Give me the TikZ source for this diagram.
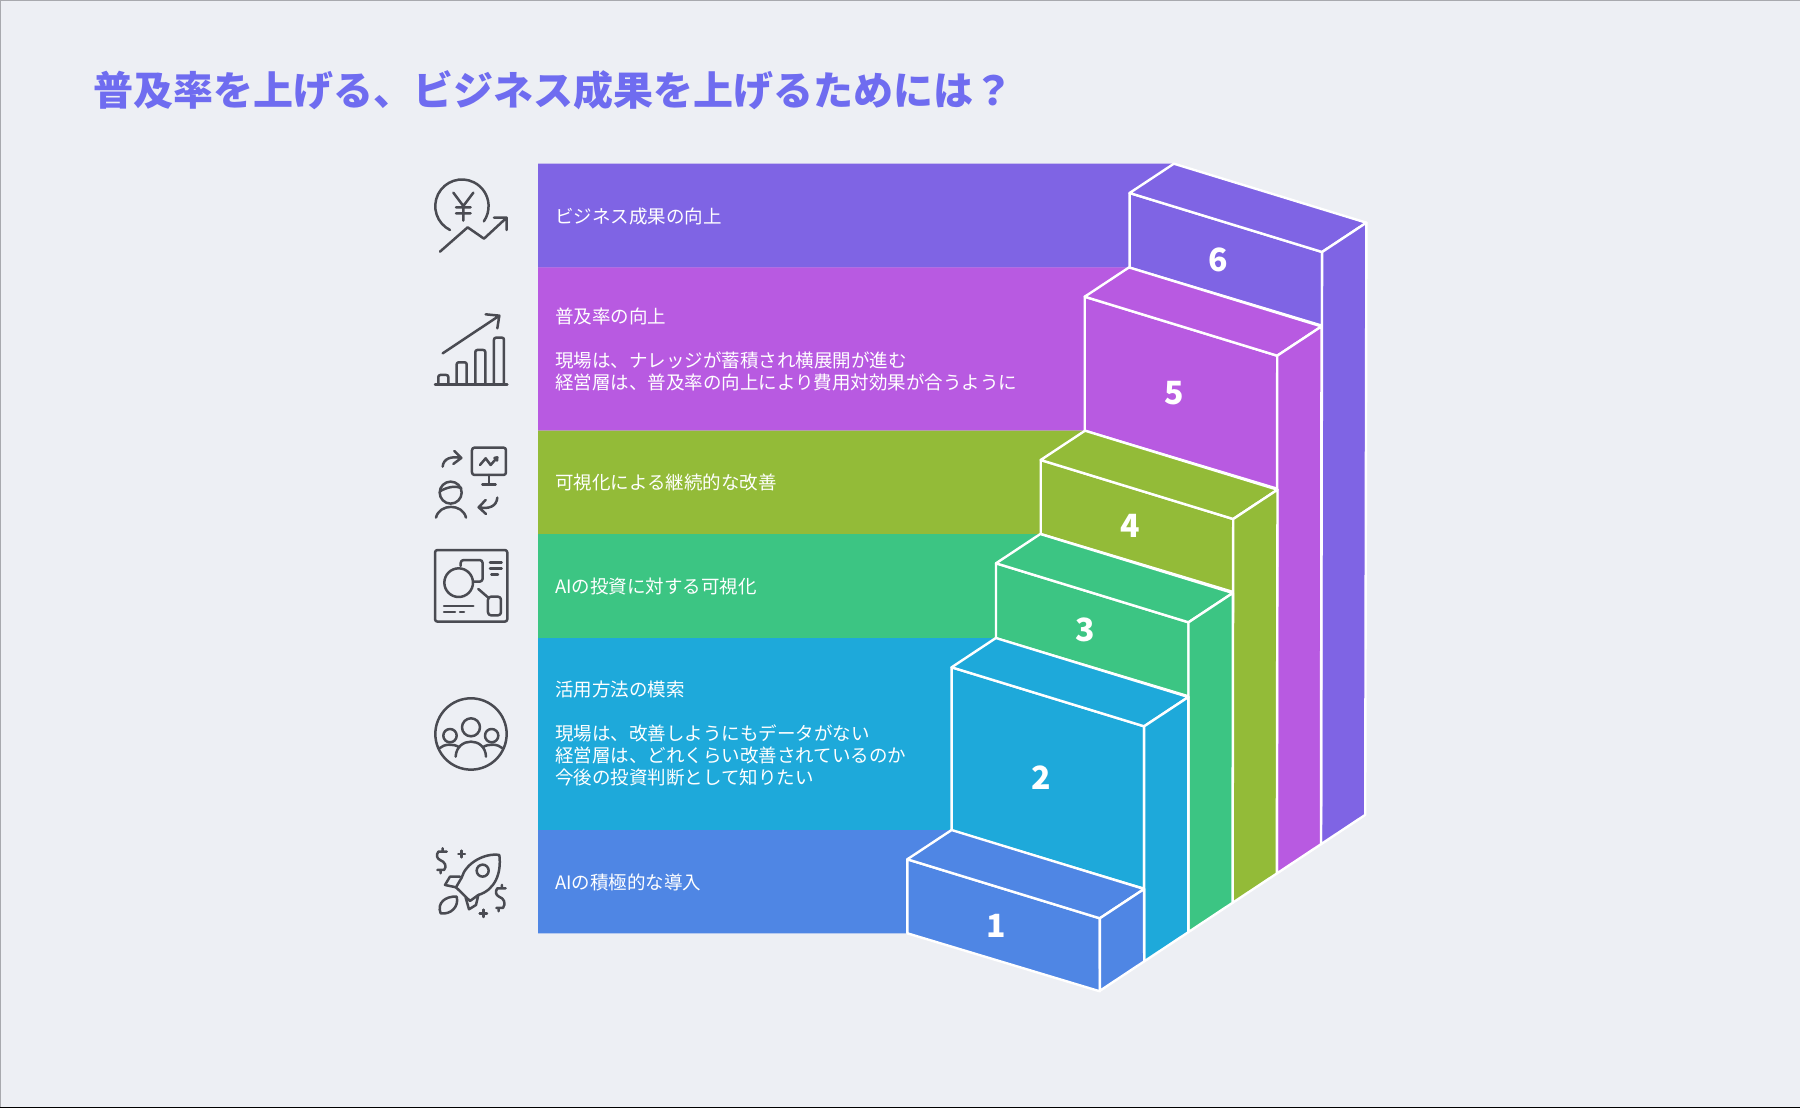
\documentclass[tikz,border=0pt]{standalone}
\usepackage{fontspec}
\setmainfont{Noto Sans CJK JP}
\usetikzlibrary{calc,arrows.meta}
\definecolor{cBg}{HTML}{EDEFF4}
\definecolor{cTitle}{HTML}{6F6CF0}
\definecolor{cInk}{HTML}{4A4B52}
\definecolor{cEdge}{HTML}{A8A9AE}
\definecolor{cSa}{HTML}{4F86E4}
\definecolor{cSb}{HTML}{1EA9DA}
\definecolor{cSc}{HTML}{3CC583}
\definecolor{cSd}{HTML}{93BB38}
\definecolor{cSe}{HTML}{B85AE1}
\definecolor{cSf}{HTML}{7F64E4}
\tikzset{
  stair/.style={draw=white,line width=2.4pt,line join=round},
  lbl/.style={anchor=west,align=left,text=white,inner sep=0pt,font=\fontsize{18.5}{22}\selectfont},
  num/.style={text=white,inner sep=0pt,font=\fontsize{32}{32}\selectfont\bfseries},
  ttl/.style={anchor=west,text=cTitle,inner sep=0pt,font=\fontsize{40}{46}\selectfont\bfseries},
  icn/.style={draw=cInk,line width=2.5pt,line cap=round,line join=round},
}
\begin{document}
\begin{tikzpicture}[x=1pt,y=-1pt]
\useasboundingbox (0,0) rectangle (1800,1108);
\fill[cBg] (0,0) rectangle (1800,1108);
\draw[cEdge,line width=1.5pt] (0,1108) -- (0,0) -- (1800,0);
\fill[black] (0,1106.6) rectangle (1800,1108);
\node[ttl] (title) at (93,90) {普及率を上げる、ビジネス成果を上げるためには？};
% bands behind the stairs
\foreach \i/\col/\xl/\yt/\yb in {6/cSf/1129.6/193/267.7,5/cSe/1084.7/296.7/430.7,4/cSd/1040.7/460/534,
                                 3/cSc/996/563.3/638.3,2/cSb/951.6/667.3/830.7,1/cSa/907.3/859.3/933.3}{
  \fill[\col] (538,\yt-29.3) -- (\xl+44.3,\yt-29.3) -- (\xl,\yt) -- (\xl,\yb) -- (538,\yb) -- cycle;
}
% stairs: front face, tread, side
\foreach \i/\col/\xl/\yt/\yb in {6/cSf/1129.6/193/267.7,5/cSe/1084.7/296.7/430.7,4/cSd/1040.7/460/534,
                                 3/cSc/996/563.3/638.3,2/cSb/951.6/667.3/830.7,1/cSa/907.3/859.3/933.3}{
  \draw[stair,fill=\col] (\xl,\yt) -- (\xl+192.5,\yt+59) -- (\xl+192.5,\yb+58) -- (\xl,\yb) -- cycle;
  \draw[stair,fill=\col] (\xl,\yt) -- (\xl+44.3,\yt-29.3) -- (\xl+236.8,\yt+29.7) -- (\xl+192.5,\yt+59) -- cycle;
  \draw[stair,fill=\col] (\xl+192.5,\yt+59) -- (\xl+236.8,\yt+29.7)
     -- (1100+44.2*\i,990.7-29.3*\i) -- (1100+44.2*\i-44.2,990.7-29.3*\i+29.3) -- cycle;
}
\node[num] (num6) at (1218.7,260) {6};
\node[num] (num5) at (1174.3,393) {5};
\node[num] (num4) at (1130.3,525.7) {4};
\node[num] (num3) at (1085.3,630) {3};
\node[num] (num2) at (1041.3,777.8) {2};
\node[num] (num1) at (996,926) {1};
\node[lbl] (lbl6) at (555,217) {ビジネス成果の向上};
\node[lbl] (lbl5) at (555,349) {普及率の向上\\[22pt]現場は、ナレッジが蓄積され横展開が進む\\経営層は、普及率の向上により費用対効果が合うように};
\node[lbl] (lbl4) at (555,482) {可視化による継続的な改善};
\node[lbl] (lbl3) at (555,586) {AIの投資に対する可視化};
\node[lbl] (lbl2) at (555,734) {活用方法の模索\\[22pt]現場は、改善しようにもデータがない\\経営層は、どれくらい改善されているのか\\今後の投資判断として知りたい};
\node[lbl] (lbl1) at (555,882) {AIの積極的な導入};
% icons, upper three
\begin{scope}[shift={(420,150)},x=.3333pt,y=-.3333pt]
\draw[icn] (90,240) arc[start angle=116.6,end angle=394.7,radius=80];
\draw[icn] (100,128) -- (130,168) -- (160,128) (130,168) -- (130,212) (108,172) -- (152,172) (108,190) -- (152,190);
\draw[icn] (60,305) -- (143,232) -- (192,266) -- (260,203) (222,203) -- (260,203) -- (260,240);
\draw[icn] (45,703) -- (262,703);
\foreach \bx/\by in {55/675,110/637,166/600,222/563}{
  \draw[icn,rounded corners=2pt] (\bx,703) -- (\bx,\by) -- (\bx+30,\by) -- (\bx+30,703);
}
\draw[icn] (68,610) -- (238,497) (197,493) -- (238,497) -- (232,535);
\draw[icn,rounded corners=2.5pt] (156,893) rectangle (258,975);
\draw[icn] (207,975) -- (207,1003) (187,1003) -- (227,1003);
\draw[icn] (180,945) -- (197,925) -- (212,945) -- (232,922) (223,924) -- (232,922) -- (231,932);
\draw[icn] (68,950) .. controls (70,925) and (95,918) .. (122,924) (103,903) -- (124,924) -- (100,942);
\draw[icn] (92,1028) circle[radius=33];
\draw[icn] (60,1024) .. controls (80,1012) and (105,1006) .. (124,1014);
\draw[icn] (48,1103) .. controls (58,1060) and (128,1060) .. (138,1103);
\draw[icn] (232,1043) .. controls (230,1070) and (205,1078) .. (178,1072) (197,1050) -- (176,1072) -- (198,1092);
\end{scope}
% icons, lower three
\begin{scope}[shift={(420,530)},x=.3333pt,y=-.3333pt]
\draw[icn,rounded corners=2.5pt] (45,60) rectangle (262,275);
\draw[icn] (116,158) circle[radius=43];
\draw[icn,rounded corners=3pt] (122,108) -- (122,90) -- (188,90) -- (188,155) -- (160,155);
\draw[icn] (210,98) -- (245,98) (210,116) -- (245,116) (214,134) -- (234,134);
\draw[icn] (175,177) -- (205,203);
\draw[icn,rounded corners=3pt] (204,200) rectangle (243,256);
\draw[icn] (72,228) -- (160,228) (72,246) -- (105,246) (120,246) -- (132,246);
\draw[icn] (153,612) circle[radius=107];
\draw[icn] (153,592) circle[radius=27] (90,617) circle[radius=20] (215,617) circle[radius=20];
\draw[icn] (107,680) .. controls (110,620) and (196,620) .. (198,680);
\draw[icn] (58,655) .. controls (72,642) and (100,640) .. (118,652);
\draw[icn] (188,652) .. controls (206,640) and (234,642) .. (248,655);
\draw[icn] (238,975) .. controls (195,968) and (137,999) .. (125,1043) -- (108,1072) -- (150,1113) -- (175,1095)
   .. controls (225,1080) and (245,1030) .. (238,975) -- cycle;
\draw[icn] (188,1022) circle[radius=18];
\draw[icn] (120,1040) -- (90,1040) -- (75,1065) -- (108,1072);
\draw[icn] (175,1095) -- (168,1125) -- (147,1138) -- (137,1103);
\draw[icn] (62,1150) .. controls (50,1120) and (75,1098) .. (110,1100) .. controls (118,1130) and (92,1155) .. (62,1150) -- cycle;
\draw[icn] (80,965) -- (55,965) .. controls (48,975) and (50,985) .. (60,990) .. controls (75,995) and (82,1010) .. (72,1020) -- (52,1020)
   (68,955) -- (68,965) (62,1020) -- (62,1030);
\draw[icn] (257,1075) -- (232,1075) .. controls (225,1085) and (227,1095) .. (237,1100) .. controls (252,1105) and (259,1120) .. (249,1134) -- (229,1134)
   (246,1065) -- (246,1075) (236,1134) -- (236,1144);
\draw[icn] (115,972) -- (135,972) (125,962) -- (125,982);
\draw[icn] (179,1150) -- (201,1150) (190,1139) -- (190,1161);
\end{scope}
\end{tikzpicture}
\end{document}
